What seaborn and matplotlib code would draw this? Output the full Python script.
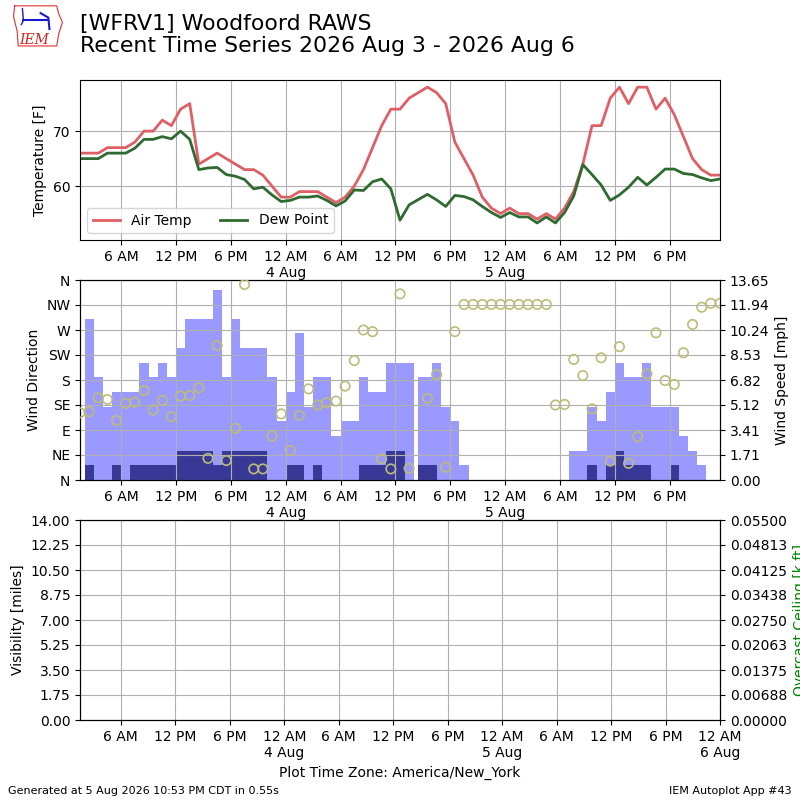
import numpy as np
import pandas as pd
import matplotlib
matplotlib.use("Agg")
import matplotlib.pyplot as plt
import matplotlib.dates as mdates
from matplotlib.ticker import FuncFormatter, FixedLocator
from decimal import Decimal, ROUND_HALF_EVEN
import seaborn as sns

# ---------------- data ----------------
obs_start = "2026-08-03 01:30"
obs_end = "2026-08-05 23:30"
plot_end = "2026-08-06 00:00"
nan = np.nan

air_temp = [66, 66, 66, 67, 67, 67, 68, 70, 70, 72, 71, 74, 75, 64, 65, 66, 65, 64, 63, 63,
            62, 60, 58, 58, 59, 59, 59, 58, 57, 58, 60, 63, 67, 71, 74, 74, 76, nan, 78, 77,
            75, 68, 65, 62, 58, 56, 55, 56, 55, 55, 54, 55, 54, 56, 59, 64, 71, 71, 76, 78,
            75, 78, 78, 74, 76, 73, 69, 65, 63, 62, 62]
dew_point = [65, 65, 65, 66, 66, 66, 66.9, 68.5, 68.5, 69.0, 68.6, 70.0, 68.5, 63.0, 63.3, 63.4,
             62.1, 61.8, 61.2, 59.5, 59.8, 58.4, 57.2, 57.4, 58.0, 58.0, 58.2, 57.4, 56.4, 57.3,
             59.3, 59.2, 60.8, 61.3, 59.5, 53.8, 56.6, nan, 58.5, 57.5, 56.3, 58.3, 58.1, 57.5,
             56.3, 55.2, 54.3, 55.2, 54.4, 54.4, 53.3, 54.4, 53.3, 55.2, 58.2, 63.9, 62.1, 60.2,
             57.4, 58.4, 59.8, 61.6, 60.2, 61.6, 63.1, 63.1, 62.3, 62.1, 61.5, 61.0, 61.3]
wind_dir = [121, 123, 148, 145, 107, 138, 140, 161, 126, 143, 114, 151, 152, 166, 39, 242, 35,
            93, 352, 20, 20, 79, 119, 53, 116, 164, 135, 139, 142, 169, 215, 270, 267, 38, 20,
            335, 21, nan, 147, 190, 23, 267, 316, 316, 316, 316, 316, 316, 316, 316, 316, 316,
            135, 136, 217, 188, 128, 220, 34, 240, 30, 78, 191, 265, 179, 172, 229, 280, 311,
            318, 318]
wind_gust = [0, 11, 7, 5, 6, 6, 6, 8, 7, 8, 7, 9, 11, 11, 11, 13, 7, 11, 9, 9, 9, 7, 4, 6, 10,
             5, 7, 7, 3, 4, 4, 7, 6, 6, 8, 8, 8, nan, 7, 8, 5, 4, 1, 0, 0, 0, 0, 0, 0, 0, 0, 0,
             0, 0, 2, 2, 5, 4, 6, 8, 7, 7, 8, 5, 5, 5, 3, 2, 1, 0, 0]
wind_speed = [0, 1, 0, 0, 1, 0, 1, 1, 1, 1, 1, 2, 2, 2, 2, 1, 2, 2, 2, 2, 2, 0, 0, 1, 1, 0, 1,
              0, 0, 0, 0, 1, 1, 1, 2, 2, 0, nan, 1, 0, 0, 0, 0, 0, 0, 0, 0, 0, 0, 0, 0, 0, 0, 0,
              0, 0, 1, 0, 1, 2, 1, 1, 1, 0, 0, 1, 0, 0, 0, 0, 0]
extra_times = ["2026-08-04 15:00", "2026-08-04 16:00"]
extra_gust = [7, 7]
extra_speed = [1, 1]

times = pd.date_range(obs_start, obs_end, freq="h")
df = pd.DataFrame({"valid": times, "tmpf": air_temp, "dwpf": dew_point,
                   "drct": wind_dir, "gust": wind_gust, "sped": wind_speed})
extra = pd.DataFrame({"valid": pd.to_datetime(extra_times), "gust": extra_gust,
                      "sped": extra_speed})
wind = pd.concat([df[["valid", "gust", "sped"]], extra]).dropna().sort_values("valid")
wind_x = mdates.date2num(wind["valid"].to_numpy())

x0 = mdates.date2num(pd.Timestamp(obs_start))
x1 = mdates.date2num(pd.Timestamp(obs_end))
x2 = mdates.date2num(pd.Timestamp(plot_end))

# ---------------- styling ----------------
plt.rcParams["font.family"] = ["DejaVu Sans"]
TEMP_C = "#de6066"
DEW_C = "#2f6a31"
DIR_C = "#bcbc7a"
GUST_C = "#9999ff"
SPD_C = "#383896"


def time_fmt(x, pos=None):
    d = mdates.num2date(x)
    if d.hour == 0:
        return "12 AM\n%d %s" % (d.day, d.strftime("%b"))
    h = d.hour % 12 or 12
    return "%d %s" % (h, "AM" if d.hour < 12 else "PM")


def even_fmt(v, pos=None):
    return str(Decimal(repr(round(float(v), 10))).quantize(Decimal("0.01"),
                                                            rounding=ROUND_HALF_EVEN))


def setup_time_axis(ax, lo, hi):
    ax.set_xlim(lo, hi)
    ax.xaxis.set_major_locator(mdates.HourLocator(byhour=[0, 6, 12, 18]))
    ax.xaxis.set_major_formatter(FuncFormatter(time_fmt))
    ax.grid(True, color="#b0b0b0", lw=0.8)


fig = plt.figure(figsize=(8, 8), dpi=100)
ax0 = fig.add_axes([0.1, 0.7, 0.8, 0.2])
ax1 = fig.add_axes([0.1, 0.4, 0.8, 0.25])
ax2 = fig.add_axes([0.1, 0.1, 0.8, 0.25])

# ---------------- temperature panel ----------------
sns.lineplot(data=df, x="valid", y="tmpf", ax=ax0, color=TEMP_C, lw=2, label="Air Temp")
sns.lineplot(data=df, x="valid", y="dwpf", ax=ax0, color=DEW_C, lw=2, label="Dew Point")
setup_time_axis(ax0, x0, x1)
ax0.set_ylim(np.nanmin(dew_point) - 3.1, np.nanmax(air_temp) + 1.3)
ax0.set_ylabel("Temperature [F]")
ax0.set_xlabel("")
ax0.legend(loc="lower left", ncol=2)

# ---------------- wind panel ----------------
ax1b = ax1.twinx()
ax1b.bar(wind_x, wind["gust"], width=1 / 24.0, color=GUST_C)
ax1b.bar(wind_x, wind["sped"], width=1 / 24.0, color=SPD_C)
ymax = round(np.nanmax(wind_gust) * 1.05, 2)
ax1b.set_ylim(0, ymax)
ax1b.yaxis.set_major_locator(FixedLocator(np.linspace(0, ymax, 9)))
ax1b.yaxis.set_major_formatter(FuncFormatter(even_fmt))
ax1b.set_ylabel("Wind Speed [mph]")

sns.scatterplot(data=df, x="valid", y="drct", ax=ax1, s=46, zorder=5)
coll = ax1.collections[-1]
coll.set_facecolor("none")
coll.set_edgecolor(DIR_C)
coll.set_linewidth(1.2)
ax1.set_zorder(ax1b.get_zorder() + 1)
ax1.patch.set_visible(False)
ax1.set_ylim(0, 360)
ax1.set_yticks(np.arange(0, 361, 45))
ax1.set_yticklabels(["N", "NE", "E", "SE", "S", "SW", "W", "NW", "N"])
ax1.set_ylabel("Wind Direction")
ax1.set_xlabel("")
setup_time_axis(ax1, x0, x1)

# ---------------- visibility / ceiling panel ----------------
ax2b = ax2.twinx()
ax2.set_ylim(0, 14)
ax2.yaxis.set_major_locator(FixedLocator(np.linspace(0, 14, 9)))
ax2.yaxis.set_major_formatter(FuncFormatter(lambda v, p: "%.2f" % v))
ax2.set_ylabel("Visibility [miles]")
ax2b.set_ylim(0, 0.055)
ax2b.yaxis.set_major_locator(FixedLocator(np.linspace(0, 0.055, 9)))
ax2b.yaxis.set_major_formatter(FuncFormatter(lambda v, p: "%.5f" % v))
ax2b.set_ylabel("Overcast Ceiling [k ft]", color="g")
setup_time_axis(ax2, x0, x2)
ax2.set_xlabel("Plot Time Zone: America/New_York")

# ---------------- titles / footer ----------------
fig.text(0.1, 0.983, "[WFRV1] Woodfoord RAWS\nRecent Time Series 2026 Aug 3 - 2026 Aug 6",
         fontsize=15.8, va="top", ha="left", linespacing=1.15)
fig.text(0.01, 0.008, "Generated at 5 Aug 2026 10:53 PM CDT in 0.55s", fontsize=8)
fig.text(0.99, 0.008, "IEM Autoplot App #43", fontsize=8, ha="right")

# logo
lax = fig.add_axes([0.015, 0.938, 0.065, 0.057])
lax.set_xlim(0, 1)
lax.set_ylim(0, 1)
lax.axis("off")
outline_x = [0.05, 0.86, 0.9, 0.97, 0.9, 0.86, 0.12, 0.1, 0.03, 0.05]
outline_y = [0.96, 0.96, 0.78, 0.6, 0.35, 0.08, 0.08, 0.4, 0.72, 0.96]
lax.plot(outline_x, outline_y, color="#e03030", lw=0.8)
lax.plot([0.22, 0.68], [0.64, 0.64], color="#1a1acc", lw=1.5)
lax.plot([0.2, 0.22, 0.18], [0.9, 0.64, 0.55], color="#1a1acc", lw=1)
lax.plot([0.55, 0.7, 0.72], [0.8, 0.7, 0.45], color="#1a1acc", lw=1.5)
lax.text(0.42, 0.2, "IEM", color="#d02020", fontsize=10, style="italic",
         family="serif", ha="center", va="center")

fig.savefig("out.png", dpi=100)
